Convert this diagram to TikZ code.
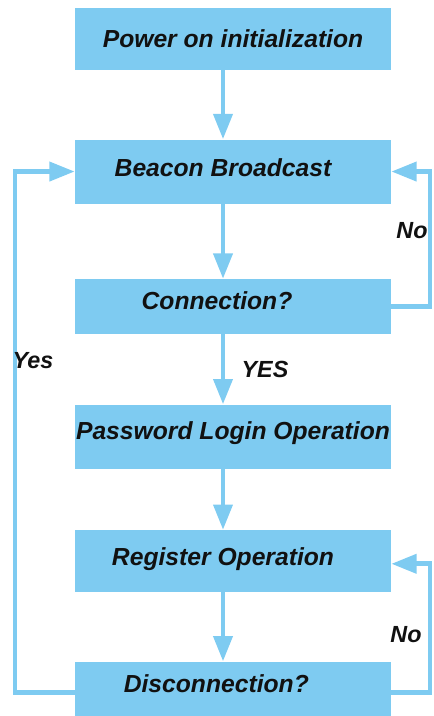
\documentclass[tikz,border=0pt]{standalone}
\usepackage{fontspec}
\setmainfont{Liberation Sans}
\usetikzlibrary{arrows.meta,positioning}
\definecolor{Sky}{HTML}{7ECBF1}
\definecolor{Ink}{HTML}{111111}
\tikzset{
  stage/.style={fill=Sky,minimum width=237pt,inner sep=0pt,text=Ink,text height=13pt,text depth=0pt,font=\bfseries\itshape\fontsize{18.5}{21}\selectfont},
  pad/.style={execute at end node={\hspace{#1}}},
  lift/.style={text depth=#1},
  flow/.style={-{Triangle[length=19pt,width=14pt]},draw=Sky,line width=3.6pt},
  tag/.style={text=Ink,font=\bfseries\itshape\fontsize{17.5}{20}\selectfont}
}
\begin{document}
\begin{tikzpicture}[x=0.75pt,y=-0.75pt]
  \useasboundingbox (0,0) rectangle (433,716);
  \node[stage,minimum height=46.5pt] (power) at (233,39) {Power on initialization};
  \node[stage,pad=15pt,lift=6pt,minimum height=48pt,below=51.75pt of power] (beacon) {Beacon Broadcast};
  \node[stage,pad=24pt,lift=8pt,minimum height=41.25pt,below=56.25pt of beacon] (conn) {Connection?};
  \node[stage,lift=9pt,minimum height=48pt,below=52.5pt of conn] (login) {Password Login Operation};
  \node[stage,pad=15pt,lift=6pt,minimum height=46.5pt,below=45.75pt of login] (reg) {Register Operation};
  \node[stage,pad=25pt,lift=13pt,minimum height=46.5pt,below=51.75pt of reg] (disc) {Disconnection?};

  % rails for the loops
  \coordinate (leftrail) at (15,0);
  \coordinate (rightrail) at (430,0);

  % main flow down the spine
  \draw[flow] ([xshift=-7.5pt]power.south) -- ([xshift=-7.5pt]beacon.north);
  \draw[flow] ([xshift=-7.5pt]beacon.south) -- ([xshift=-7.5pt]conn.north);
  \draw[flow] ([xshift=-7.5pt]conn.south) -- ([xshift=-7.5pt]login.north);
  \draw[flow] ([xshift=-7.5pt]login.south) -- ([xshift=-7.5pt]reg.north);
  \draw[flow] ([xshift=-7.5pt]reg.south) -- ([xshift=-7.5pt]disc.north);

  % loops back
  \draw[flow] (conn.east) -- (conn.east -| rightrail) |- (beacon.east);
  \draw[flow] (disc.east) -- (disc.east -| rightrail) |- ([yshift=-2pt]reg.east);
  \draw[flow] (disc.west) -- (disc.west -| leftrail) |- (beacon.west);

  \node[tag] (nobeacon) at (412,231) {No};
  \node[tag] (yesconn) at (265,369) {YES};
  \node[tag] (yesdisc) at (33,361) {Yes};
  \node[tag] (noreg) at (406,635) {No};
\end{tikzpicture}
\end{document}
